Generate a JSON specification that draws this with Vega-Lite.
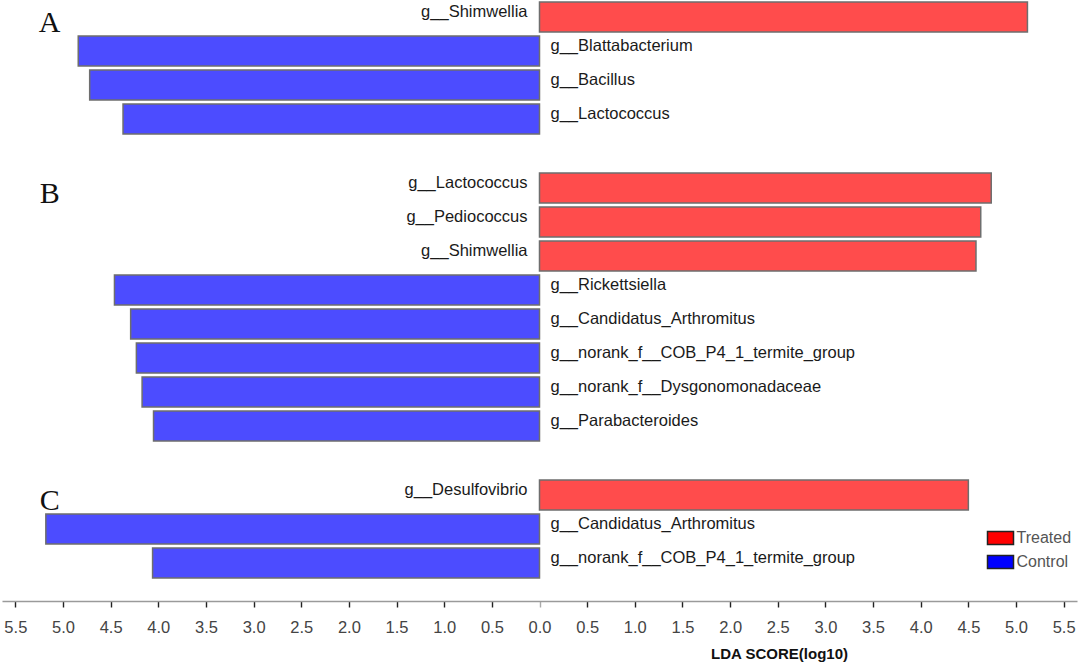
{
  "$schema": "https://vega.github.io/schema/vega-lite/v6.json",
  "background": "white",
  "padding": {"left": 2, "right": 3, "top": 0, "bottom": 0},
  "data": {
    "values": [
      {"group": "A", "taxon": "g__Shimwellia", "score": 5.12, "class": "Treated"},
      {"group": "A", "taxon": "g__Blattabacterium", "score": -4.84, "class": "Control"},
      {"group": "A", "taxon": "g__Bacillus", "score": -4.72, "class": "Control"},
      {"group": "A", "taxon": "g__Lactococcus", "score": -4.37, "class": "Control"},
      {"group": "B", "taxon": "g__Lactococcus", "score": 4.74, "class": "Treated"},
      {"group": "B", "taxon": "g__Pediococcus", "score": 4.63, "class": "Treated"},
      {"group": "B", "taxon": "g__Shimwellia", "score": 4.58, "class": "Treated"},
      {"group": "B", "taxon": "g__Rickettsiella", "score": -4.46, "class": "Control"},
      {"group": "B", "taxon": "g__Candidatus_Arthromitus", "score": -4.29, "class": "Control"},
      {"group": "B", "taxon": "g__norank_f__COB_P4_1_termite_group", "score": -4.23, "class": "Control"},
      {"group": "B", "taxon": "g__norank_f__Dysgonomonadaceae", "score": -4.17, "class": "Control"},
      {"group": "B", "taxon": "g__Parabacteroides", "score": -4.05, "class": "Control"},
      {"group": "C", "taxon": "g__Desulfovibrio", "score": 4.5, "class": "Treated"},
      {"group": "C", "taxon": "g__Candidatus_Arthromitus", "score": -5.18, "class": "Control"},
      {"group": "C", "taxon": "g__norank_f__COB_P4_1_termite_group", "score": -4.06, "class": "Control"}
    ]
  },
  "facet": {"row": {"field": "group", "type": "nominal", "header": null}},
  "spacing": {"row": 35},
  "resolve": {"scale": {"y": "independent"}},
  "spec": {
    "width": 1075,
    "height": {"step": 34},
    "layer": [
      {
        "mark": {"type": "bar", "fillOpacity": 0.7, "stroke": "#6e6e6e", "strokeWidth": 1.5},
        "encoding": {
          "y": {"field": "taxon", "type": "nominal", "sort": null,
                "scale": {"paddingInner": 0.12, "paddingOuter": 0.06}, "axis": null},
          "x": {"field": "score", "type": "quantitative",
                "scale": {"domain": [-5.64, 5.64], "nice": false, "zero": true},
                "axis": {
                  "values": [-5.5, -5, -4.5, -4, -3.5, -3, -2.5, -2, -1.5, -1, -0.5, 0, 0.5, 1, 1.5, 2, 2.5, 3, 3.5, 4, 4.5, 5, 5.5],
                  "labelExpr": "format(abs(datum.value), '.1f')",
                  "title": "LDA SCORE(log10)",
                  "titleFont": "Liberation Sans",
                  "titleFontSize": 15,
                  "titleFontWeight": "bold",
                  "titleColor": "#111",
                  "titleX": 777,
                  "titlePadding": 11,
                  "offset": 21,
                  "grid": false,
                  "domainColor": "#9a9a9a",
                  "domainWidth": 1.3,
                  "tickColor": {"condition": {"test": "datum.value === 0", "value": "#aaaaaa"}, "value": "#222222"},
                  "tickSize": 6,
                  "tickWidth": 1.4,
                  "labelFont": "Liberation Sans",
                  "labelFontSize": 16.5,
                  "labelColor": "#444",
                  "labelPadding": 12,
                  "labelOverlap": false,
                  "labelFlush": false
                }},
          "color": {"field": "class", "type": "nominal",
                    "scale": {"domain": ["Treated", "Control"], "range": ["#FF0000", "#0000FF"]},
                    "legend": {
                      "title": null,
                      "orient": "none",
                      "legendX": 984.5,
                      "legendY": 524,
                      "padding": 0,
                      "symbolType": "M-1,-0.5H1V0.5H-1Z",
                      "symbolSize": 676,
                      "symbolOpacity": 1,
                      "symbolStrokeColor": "#222",
                      "symbolStrokeWidth": 1.5,
                      "labelFont": "Liberation Sans",
                      "labelFontSize": 16,
                      "labelColor": "#555",
                      "labelOffset": 2,
                      "rowPadding": -1
                    }}
        }
      },
      {
        "transform": [{"filter": "datum.class === 'Treated'"}],
        "mark": {"type": "text", "align": "right", "baseline": "alphabetic", "dx": -12, "dy": 0,
                 "font": "Liberation Sans", "fontSize": 16.5, "fill": "#1a1a1a"},
        "encoding": {
          "y": {"field": "taxon", "type": "nominal", "sort": null},
          "x": {"datum": 0},
          "text": {"field": "taxon"}
        }
      },
      {
        "transform": [{"filter": "datum.class === 'Control'"}],
        "mark": {"type": "text", "align": "left", "baseline": "alphabetic", "dx": 11, "dy": 0,
                 "font": "Liberation Sans", "fontSize": 16.5, "fill": "#1a1a1a"},
        "encoding": {
          "y": {"field": "taxon", "type": "nominal", "sort": null},
          "x": {"datum": 0},
          "text": {"field": "taxon"}
        }
      },
      {
        "transform": [
          {"window": [{"op": "row_number", "as": "rn"}], "groupby": ["group"]},
          {"filter": "datum.rn === 1"}
        ],
        "mark": {"type": "text", "align": "center", "baseline": "alphabetic", "dy": 15,
                 "font": "Liberation Serif", "fontSize": 30, "fill": "#111"},
        "encoding": {
          "y": {"field": "taxon", "type": "nominal", "sort": null},
          "x": {"datum": -5.14},
          "text": {"field": "group"}
        }
      }
    ]
  },
  "config": {
    "view": {"stroke": null}
  }
}
